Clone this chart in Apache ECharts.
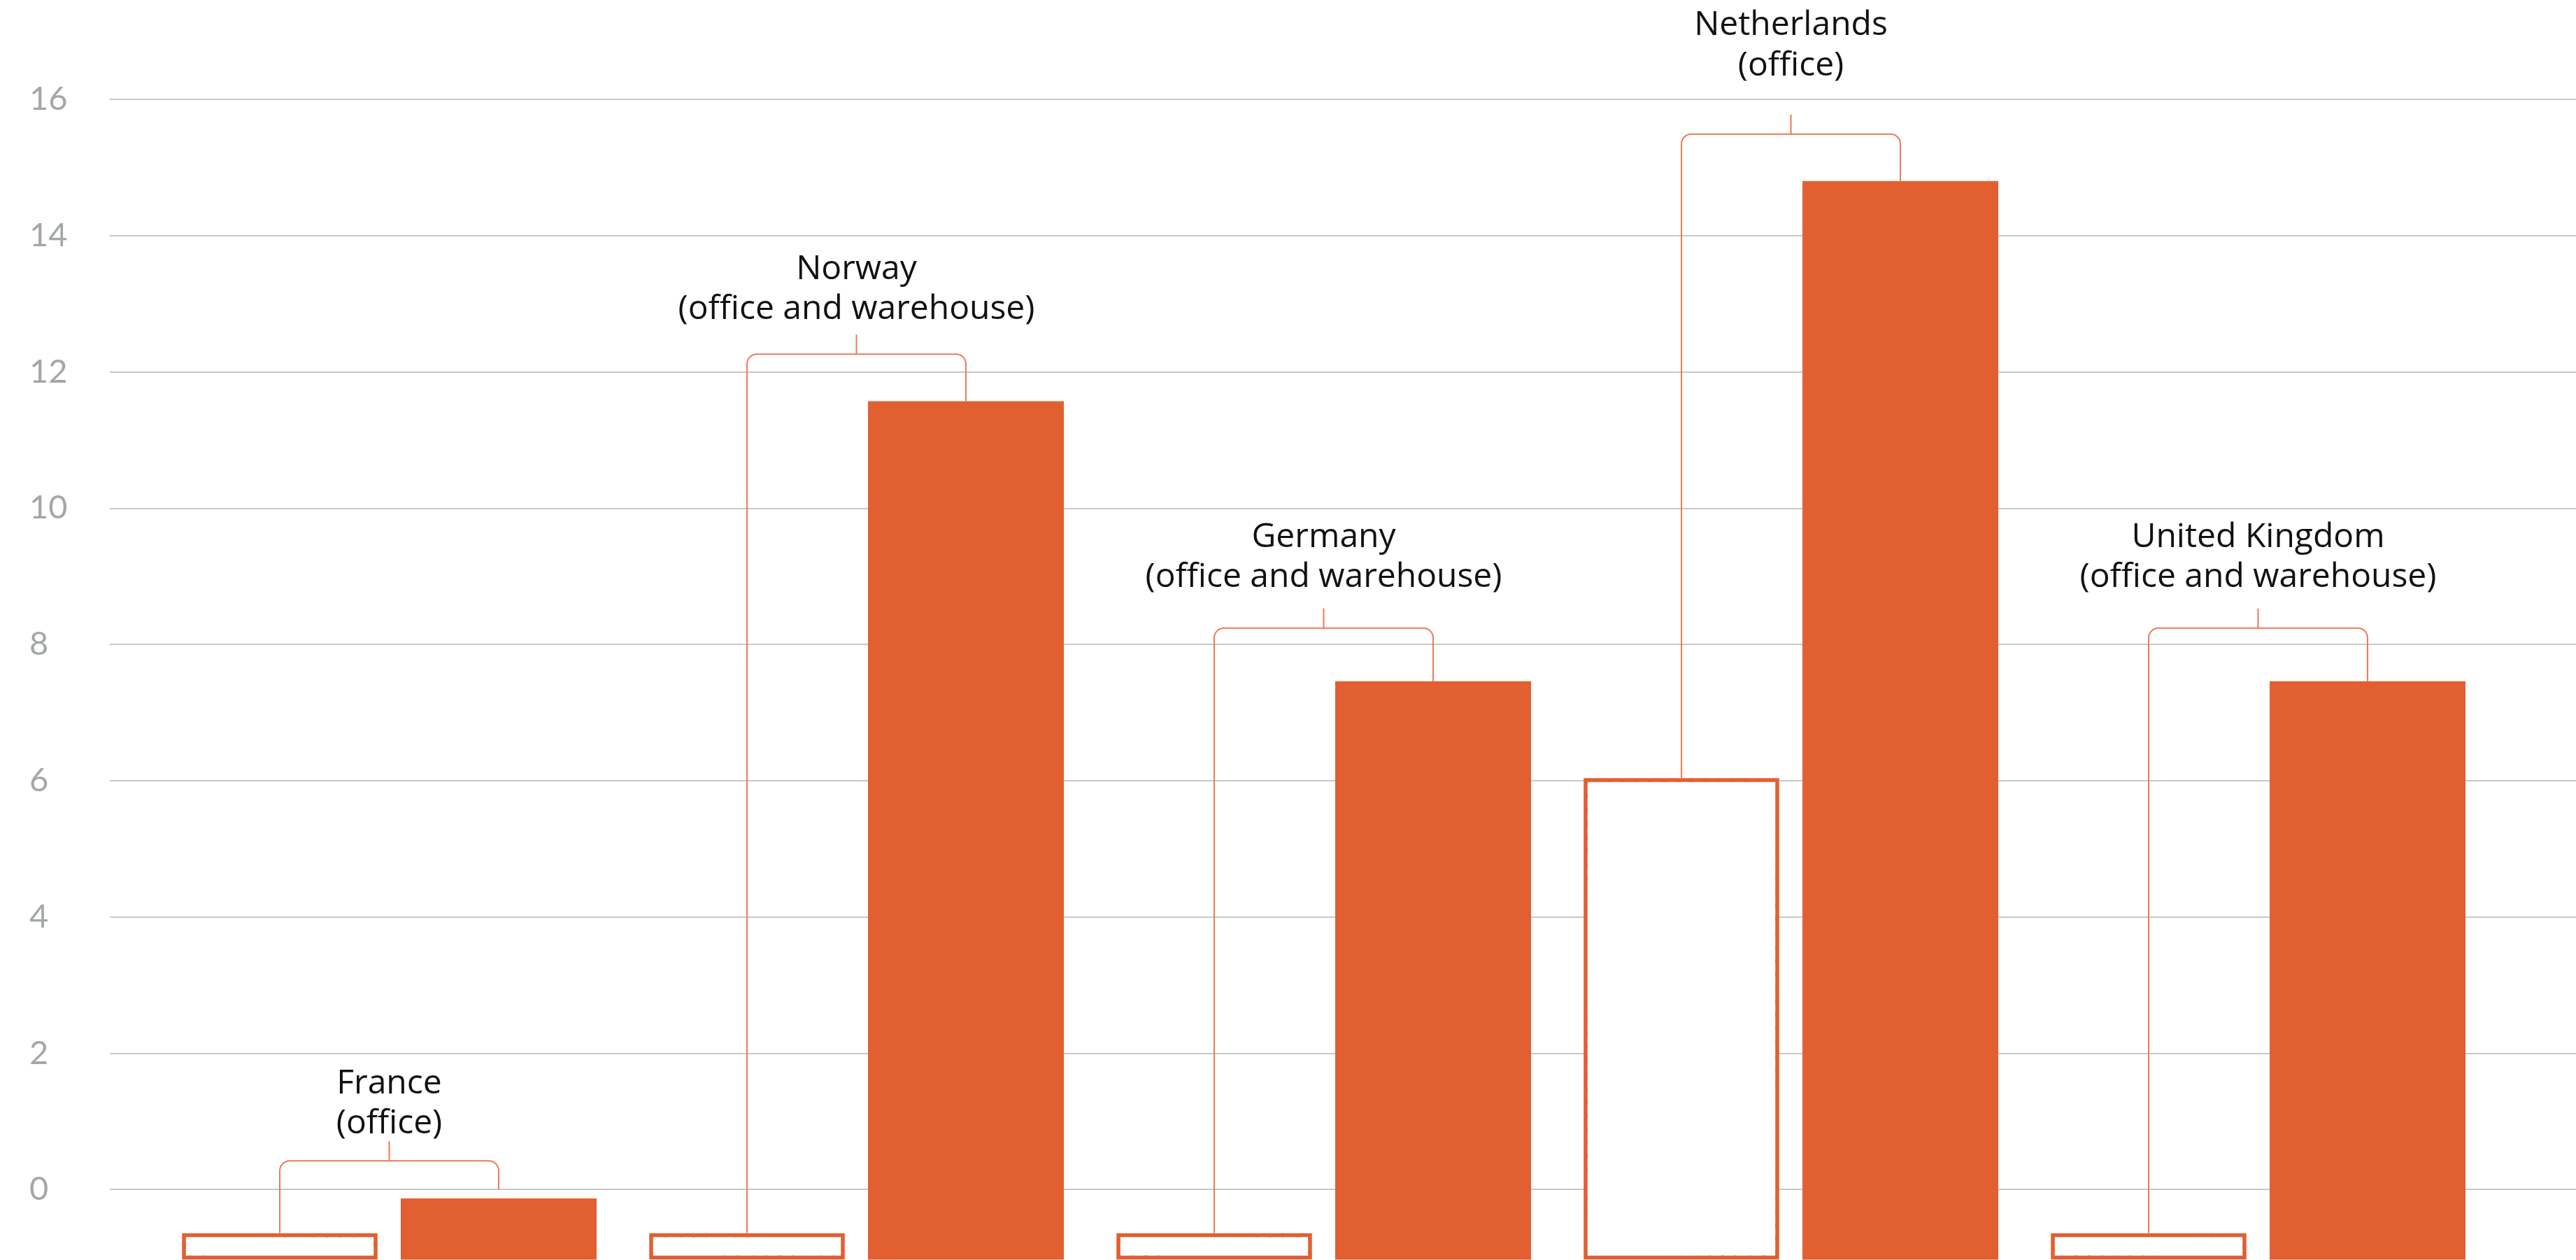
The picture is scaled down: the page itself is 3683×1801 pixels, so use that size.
<!DOCTYPE html>
<html>
<head>
<meta charset="utf-8">
<script src="https://cdn.jsdelivr.net/npm/echarts@6/dist/echarts.min.js"></script>
<style>
html,body{margin:0;padding:0;background:#ffffff;}
#chart{width:3683px;height:1801px;}
</style>
</head>
<body>
<div id="chart"></div>
<script>
// ---------------- data ----------------
const categories = ['France', 'Norway', 'Germany', 'Netherlands', 'United Kingdom'];
const siteTypes = ['office', 'office and warehouse', 'office and warehouse', 'office', 'office and warehouse'];
const hollowValues = [-0.64, -0.64, -0.64, 6.04, -0.64];
const filledValues = [-0.13, 11.57, 7.46, 14.80, 7.46];
const yTickMin = -2;
const yTickMax = 16;
const yTickStep = 2;
const barFloor = -1.03;              // value where bars start (bottom of visible plot)
// annotation anchors (value units)
const bracketLevels = [0.42, 12.26, 8.24, 15.49, 8.24];
const labelBaselineLevels = [0.83, 12.78, 8.85, 16.36, 8.85];

// ---------------- style ----------------
const ORANGE = '#E25F32';
const BRACKET = '#EE7A55';
const BAR_W = 280 / 668;
const BAR_OFF = 156.5 / 668;
const STEM = 28;
const RADIUS = 14;
const LABEL_FONT = 48;
const LINE_H = 57.5;
const FONT = '"Open Sans", Lato, sans-serif';
const TICK_FONT = 'Lato, "Open Sans", sans-serif';

function wob(k, phase) {
  return 0.7 * Math.sin(k * 1.9 + phase) + 0.5 * Math.sin(k * 4.3 + phase * 1.7);
}
function roughRectPoints(x, y, w, h, phase) {
  const pts = [];
  const step = 6;
  for (let t = 0; t <= w; t += step) pts.push([x + t, y + wob(t / step, phase)]);
  for (let t = 0; t <= h; t += step) pts.push([x + w + wob(t / step, phase + 1), y + t]);
  for (let t = w; t >= 0; t -= step) pts.push([x + t, y + h + wob(t / step, phase + 2)]);
  for (let t = h; t >= 0; t -= step) pts.push([x + wob(t / step, phase + 3), y + t]);
  return pts;
}

function barRenderer(side, hollow) {
  return function (params, api) {
    const i = api.value(0);
    const v = api.value(1);
    const band = api.size([1, 0])[0];
    const top = api.coord([i, v]);
    const base = api.coord([i, barFloor]);
    const w = band * BAR_W;
    const cx = top[0] + side * band * BAR_OFF;
    const x = cx - w / 2;
    const y = top[1];
    const h = base[1] - top[1];
    if (!hollow) {
      return { type: 'rect', shape: { x: x, y: y, width: w, height: h }, style: { fill: ORANGE } };
    }
    const ins = 3;
    return {
      type: 'group',
      children: [
        { type: 'rect', shape: { x: x + ins, y: y + ins, width: w - 2 * ins, height: h - 2 * ins },
          style: { fill: '#ffffff', stroke: ORANGE, lineWidth: 5.5 } },
        { type: 'polygon', shape: { points: roughRectPoints(x + ins + 0.5, y + ins + 0.5, w - 2 * ins - 1, h - 2 * ins - 1, i * 1.3) },
          style: { fill: 'none', stroke: ORANGE, lineWidth: 3, opacity: 0.85 } }
      ]
    };
  };
}

function arcPts(cx, cy, r, a0, a1) {
  const pts = [];
  const n = 10;
  for (let k = 0; k <= n; k++) {
    const a = a0 + (a1 - a0) * k / n;
    pts.push([cx + r * Math.cos(a), cy + r * Math.sin(a)]);
  }
  return pts;
}

function annotationRenderer(params, api) {
  const i = api.value(0);
  const hv = api.value(1);
  const fv = api.value(2);
  const bl = api.value(3);
  const lb = api.value(4);
  const band = api.size([1, 0])[0];
  const c = api.coord([i, bl]);
  const cx = c[0];
  const by = c[1];
  const lx = cx - band * BAR_OFF;
  const rx = cx + band * BAR_OFF;
  const lBottom = api.coord([i, hv])[1];
  const rBottom = Math.min(api.coord([i, fv])[1], api.coord([i, 0])[1]);
  let pts = [[lx, lBottom]];
  pts = pts.concat(arcPts(lx + RADIUS, by + RADIUS, RADIUS, Math.PI, 1.5 * Math.PI));
  pts = pts.concat(arcPts(rx - RADIUS, by + RADIUS, RADIUS, 1.5 * Math.PI, 2 * Math.PI));
  pts.push([rx, rBottom]);
  const baseY = api.coord([i, lb])[1];
  const textCenter = baseY - 0.27 * LABEL_FONT - LINE_H / 2;
  return {
    type: 'group',
    children: [
      { type: 'polyline', shape: { points: pts }, style: { stroke: BRACKET, lineWidth: 2, fill: 'none' } },
      { type: 'line', shape: { x1: cx, y1: by, x2: cx, y2: by - STEM }, style: { stroke: BRACKET, lineWidth: 2 } },
      { type: 'text', style: {
          text: categories[i] + '\n(' + siteTypes[i] + ')',
          x: cx, y: textCenter, align: 'center', verticalAlign: 'middle',
          fontSize: LABEL_FONT, fontFamily: FONT, lineHeight: LINE_H, fill: '#111111'
        } }
    ]
  };
}

const chart = echarts.init(document.getElementById('chart'), null, { renderer: 'canvas' });
const gridTop = 142, gridBottom = -94;
chart.setOption({
  animation: false,
  backgroundColor: '#ffffff',
  grid: [
    { left: 157, right: 0, top: gridTop, bottom: gridBottom, containLabel: false, outerBoundsMode: 'none' },
    { left: 222.5, right: 120.5, top: gridTop, bottom: gridBottom, containLabel: false, outerBoundsMode: 'none' }
  ],
  xAxis: [
    { gridIndex: 0, type: 'category', data: categories, show: false },
    { gridIndex: 1, type: 'category', data: categories, show: false }
  ],
  yAxis: [
    { gridIndex: 0, type: 'value', min: yTickMin, max: yTickMax, interval: yTickStep,
      axisLine: { show: false }, axisTick: { show: false },
      axisLabel: { align: 'left', margin: 115, color: '#A3A7A8', fontSize: 47, fontFamily: TICK_FONT },
      splitLine: { show: true, lineStyle: { color: '#C8C8C8', width: 2 } } },
    { gridIndex: 1, type: 'value', min: yTickMin, max: yTickMax, interval: yTickStep, show: false,
      splitLine: { show: false } }
  ],
  series: [
    { type: 'custom', name: 'hollow', xAxisIndex: 1, yAxisIndex: 1, clip: false,
      data: hollowValues.map((v, i) => [i, v]), encode: { x: 0, y: 1 }, renderItem: barRenderer(-1, true), z: 2 },
    { type: 'custom', name: 'filled', xAxisIndex: 1, yAxisIndex: 1, clip: false,
      data: filledValues.map((v, i) => [i, v]), encode: { x: 0, y: 1 }, renderItem: barRenderer(1, false), z: 2 },
    { type: 'custom', name: 'annotations', xAxisIndex: 1, yAxisIndex: 1, clip: false,
      data: categories.map((c, i) => [i, hollowValues[i], filledValues[i], bracketLevels[i], labelBaselineLevels[i]]),
      encode: { x: 0, y: 3 }, renderItem: annotationRenderer, z: 3 }
  ]
});
</script>
</body>
</html>
